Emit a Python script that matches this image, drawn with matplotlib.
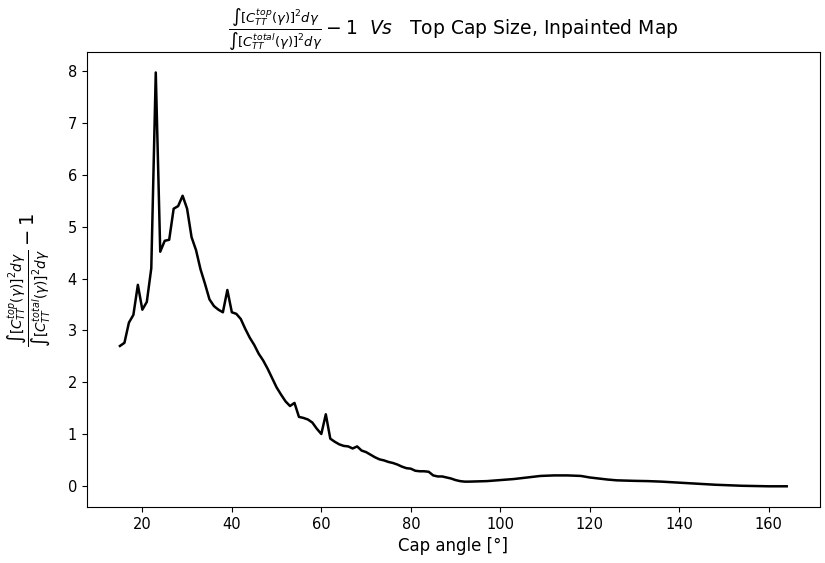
import numpy as np
import matplotlib
matplotlib.use('Agg')
import matplotlib.pyplot as plt

# cap angle (degrees) and integrated power ratio - 1
cap_angle = [15, 16, 17, 18, 19, 20, 21, 22, 23, 24, 25, 26, 27, 28, 29, 30,
             31, 32, 33, 34, 35, 36, 37, 38, 39, 40, 41, 42, 43, 44, 45, 46,
             47, 48, 49, 50, 51, 52, 53, 54, 55, 56, 57, 58, 59, 60, 61, 62,
             63, 64, 65, 66, 67, 68, 69, 70, 71, 72, 73, 74, 75, 76, 77, 78,
             79, 80, 81, 82, 83, 84, 85, 86, 87, 88, 89, 90, 91, 92,
             93, 95, 97, 100, 103, 106, 109, 112, 115, 118, 120, 122, 124,
             126, 128, 130, 133, 136, 139, 142, 145, 148, 151, 154, 157,
             160, 164]
ratio = [2.70, 2.76, 3.15, 3.30, 3.88, 3.40, 3.55, 4.20, 7.98, 4.52, 4.73,
         4.75, 5.35, 5.40, 5.60, 5.35, 4.80, 4.55, 4.18, 3.90, 3.60, 3.47,
         3.40, 3.35, 3.78, 3.35, 3.32, 3.22, 3.03, 2.86, 2.72, 2.55, 2.42,
         2.26, 2.08, 1.90, 1.76, 1.63, 1.54, 1.60, 1.33, 1.31, 1.28, 1.22,
         1.10, 1.00, 1.38, 0.91, 0.85, 0.80, 0.77, 0.76, 0.72, 0.76, 0.68,
         0.65, 0.60, 0.55, 0.51, 0.49, 0.46, 0.44, 0.41, 0.37, 0.34, 0.33,
         0.29, 0.28, 0.28, 0.27, 0.20, 0.18, 0.18, 0.16, 0.14, 0.11, 0.09,
         0.08,
         0.08, 0.085, 0.09, 0.11, 0.13, 0.16, 0.19, 0.20, 0.20, 0.19, 0.16,
         0.14, 0.12, 0.105, 0.10, 0.095, 0.09, 0.08, 0.065, 0.05, 0.035,
         0.02, 0.01, 0.0, -0.005, -0.01, -0.01]

frac = r'$\frac{\int [C_{TT}^{top}(\gamma)]^2 d\gamma}{\int [C_{TT}^{total}(\gamma)]^2 d\gamma} - 1$'

fig = plt.figure(figsize=(8.25, 5.63), dpi=100)
ax = fig.add_axes([0.105, 0.0995, 0.889, 0.8085])

ax.plot(cap_angle, ratio, color='black', linewidth=1.8)
ax.set_xlabel('Cap angle [°]', fontsize=12)
ax.set_ylabel(frac, fontsize=14, labelpad=10)
ax.set_title(frac + r'  $Vs$   Top Cap Size, Inpainted Map', fontsize=13.5, pad=4)
ax.tick_params(labelsize=10.5)

fig.savefig('out.png', dpi=100)
